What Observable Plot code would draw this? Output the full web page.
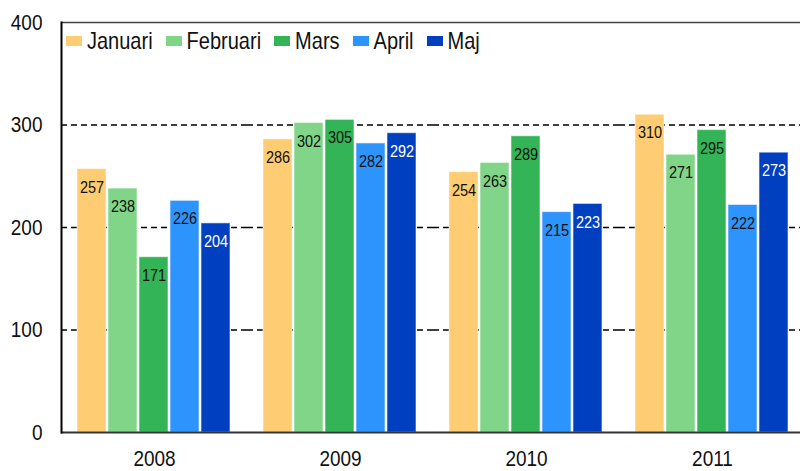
<!DOCTYPE html>
<html>
<head>
<meta charset="utf-8">
<script src="https://cdn.jsdelivr.net/npm/d3@7"></script>
<script src="https://cdn.jsdelivr.net/npm/@observablehq/plot@0.6"></script>
<style>
  html, body { margin: 0; padding: 0; background: #fff; overflow: hidden; }
  #wrap { position: relative; width: 806px; height: 471px; font-family: "Liberation Sans", Arial, sans-serif; }
  #legend { position: absolute; left: 66px; top: 31px; display: flex; align-items: center; height: 20px; }
  .item { display: flex; align-items: center; margin-right: 13px; }
  .sw { width: 16px; height: 10px; margin-right: 5px; }
  .lab { font-size: 20px; line-height: 20px; color: #111; display: inline-block; transform: scaleY(1.2); }
</style>
</head>
<body>
<div id="wrap"><div id="legend"></div></div>
<script>
const years = ["2008", "2009", "2010", "2011"];
const months = ["Januari", "Februari", "Mars", "April", "Maj"];
const colors = ["#FECC72", "#80D588", "#33B457", "#2E94FD", "#0040C0"];
const v2008 = [257, 238, 171, 226, 204];
const v2009 = [286, 302, 305, 282, 292];
const v2010 = [254, 263, 289, 215, 223];
const v2011 = [310, 271, 295, 222, 273];
const yTicks = [0, 100, 200, 300, 400];
const gridTicks = [100, 200, 300];

const series = [v2008, v2009, v2010, v2011];
const data = [];
years.forEach((yr, i) => months.forEach((m, j) => data.push({year: yr, month: m, value: series[i][j]})));

const font = "'Liberation Sans', Arial, sans-serif";

const chart = Plot.plot({
  width: 806,
  height: 471,
  marginLeft: 60,
  marginRight: 0,
  marginTop: 22,
  marginBottom: 39,
  fx: {domain: years, padding: 0, label: null},
  x: {domain: months, paddingInner: 0.05, paddingOuter: 0.486, axis: null},
  y: {domain: [0, 400], label: null},
  color: {domain: months, range: colors},
  style: {fontFamily: font, maxWidth: "none", background: "white"},
  marks: [
    Plot.gridY(gridTicks, {stroke: "#000", strokeOpacity: 1, strokeWidth: 1.5, strokeDasharray: "6,4"}),
    Plot.ruleY([400], {stroke: "#444", strokeWidth: 1.5}),
    Plot.barY(data, {fx: "year", x: "month", y: "value", fill: "month", stroke: "white", strokeOpacity: 0.55, strokeWidth: 1}),
    Plot.text(data, {filter: d => d.month !== "Maj", fx: "year", x: "month", y: "value", text: d => String(d.value), dy: 18, fontSize: 14.5, fill: "#111"}),
    Plot.text(data, {filter: d => d.month === "Maj", fx: "year", x: "month", y: "value", text: d => String(d.value), dy: 18, fontSize: 14.5, fill: "#fff"}),
    Plot.ruleY([0], {stroke: "#333", strokeWidth: 2}),
    Plot.frame({anchor: "left", facetAnchor: "left", stroke: "#000", strokeWidth: 2}),
    Plot.axisY({ticks: yTicks, tickSize: 0, tickPadding: 19, fontSize: 19, label: null, fill: "#111"}),
    Plot.axisFx({anchor: "bottom", tickSize: 0, tickPadding: 17, fontSize: 19, label: null, fill: "#111"})
  ]
});

chart.querySelectorAll("text").forEach(t => {
  const tr = t.getAttribute("transform");
  if (tr) t.setAttribute("transform", tr + " scale(1,1.2)");
});

const wrap = document.getElementById("wrap");
wrap.insertBefore(chart, wrap.firstChild);

const legend = document.getElementById("legend");
months.forEach((m, i) => {
  const item = document.createElement("div");
  item.className = "item";
  const sw = document.createElement("span");
  sw.className = "sw";
  sw.style.background = colors[i];
  const lab = document.createElement("span");
  lab.className = "lab";
  lab.textContent = m;
  item.appendChild(sw);
  item.appendChild(lab);
  legend.appendChild(item);
});
</script>
</body>
</html>
